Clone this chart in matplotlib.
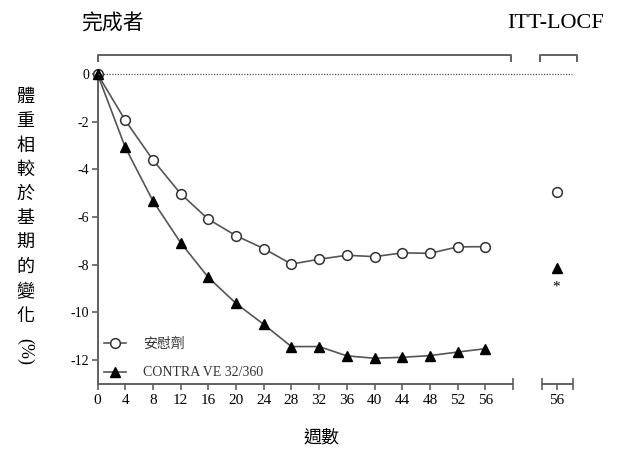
import numpy as np
import matplotlib
matplotlib.use("Agg")
import matplotlib.pyplot as plt
from matplotlib.lines import Line2D
from matplotlib.transforms import blended_transform_factory

plt.rcParams['font.family'] = ['Liberation Serif', 'Noto Sans CJK TC']

# data
weeks = [0, 4, 8, 12, 16, 20, 24, 28, 32, 36, 40, 44, 48, 52, 56]
placebo = [0, -1.94, -3.6, -5.02, -6.09, -6.78, -7.32, -7.97, -7.77, -7.6, -7.66, -7.5, -7.52, -7.25, -7.24]
contrave = [0, -3.07, -5.32, -7.07, -8.53, -9.62, -10.5, -11.43, -11.43, -11.82, -11.92, -11.88, -11.81, -11.66, -11.52]
itt_week = [56]
itt_placebo = [-4.93]
itt_contrave = [-8.12]
yticks = [0, -2, -4, -6, -8, -10, -12]
ylabel_chars = "體重相較於基期的變化"
series_names = ["安慰劑", "CONTRA VE 32/360"]

gray = "#555555"
spine_gray = "#606060"

fig = plt.figure(figsize=(6.18, 4.5), dpi=100)
ax = fig.add_axes([97.5 / 618, 66 / 450, 415.5 / 618, 310 / 450])
ax2 = fig.add_axes([542 / 618, 66 / 450, 30.5 / 618, 310 / 450], sharey=ax)

l1, = ax.plot(weeks, placebo, color=gray, lw=1.2, marker='o', ms=7,
              mfc='white', mec='#333333', mew=1.1, clip_on=False, zorder=3)
l2, = ax.plot(weeks, contrave, color=gray, lw=1.2, marker='^', ms=6.5,
              mfc='black', mec='black', clip_on=False, zorder=4)

ax2.plot(itt_week, itt_placebo, ls='none', marker='o', ms=7,
         mfc='white', mec='#333333', mew=1.1)
ax2.plot(itt_week, itt_contrave, ls='none', marker='^', ms=6.5,
         mfc='black', mec='black')
ax2.text(itt_week[0], itt_contrave[0] - 0.8, "*", ha='center', va='center', fontsize=11)

ax.set_xlim(0, 60)
ax.set_ylim(-13, 0)
ax2.set_xlim(53.9, 58.3)

for a in (ax, ax2):
    for s in ('top', 'right'):
        a.spines[s].set_visible(False)
    a.spines['bottom'].set_color(spine_gray)
    a.spines['bottom'].set_linewidth(1.4)
    a.tick_params(axis='x', direction='out', length=4, width=1.2, color=spine_gray,
                  labelsize=11, pad=3)
ax2.spines['left'].set_visible(False)
ax2.tick_params(axis='y', left=False, labelleft=False)

ax.spines['left'].set_color(spine_gray)
ax.spines['left'].set_linewidth(1.4)
ax.set_yticks(yticks)
ax.set_yticklabels([str(v) for v in yticks])
ax.tick_params(axis='y', direction='out', length=4, width=1.2, color=spine_gray,
               labelsize=10, pad=2)

ax.set_xticks(weeks)
ax.set_xticks([60], minor=True)
ax2.set_xticks(itt_week)
ax2.set_xticks([53.9, 58.3], minor=True)
for a in (ax, ax2):
    a.tick_params(axis='x', which='minor', direction='inout', length=8, width=1.2,
                  color=spine_gray)

# dotted zero line across both panels
tr = blended_transform_factory(fig.transFigure, ax.transData)
fig.add_artist(Line2D([98 / 618, 572 / 618], [0, 0], transform=tr, color=gray,
                      lw=0.9, ls=(0, (1, 1.2)), zorder=1))

# brackets above the panels
def bracket(x0, x1):
    y0 = 1 - 54.5 / 450
    y1 = 1 - 61 / 450
    fig.add_artist(Line2D([x0 / 618, x0 / 618, x1 / 618, x1 / 618], [y1, y0, y0, y1],
                          color=spine_gray, lw=1.4))

bracket(98, 511)
bracket(540, 577)

fig.text(112 / 618, 1 - 24 / 450, "完成者", ha='center', va='center', fontsize=15,
         family='Noto Sans CJK TC')
fig.text(556 / 618, 1 - 24 / 450, "ITT-LOCF", ha='center', va='center', fontsize=16)

# vertical stacked y label
for i, ch in enumerate(ylabel_chars):
    fig.text(25 / 618, 1 - (97 + i * 24.3) / 450, ch, ha='center', va='center',
             fontsize=13, family='Noto Sans CJK TC')
fig.text(25 / 618, 1 - 352 / 450, "(%)", ha='center', va='center', fontsize=13,
         rotation=270)

fig.text(322 / 618, 1 - 437 / 450, "週數", ha='center', va='center', fontsize=13,
         family='Noto Sans CJK TC')

leg = ax.legend([l1, l2], series_names, loc='lower left', bbox_to_anchor=(-0.005, -0.012),
                frameon=False, fontsize=10, handlelength=1.6, handletextpad=1.2,
                labelspacing=1.1, borderaxespad=0.2)
for t in leg.get_texts():
    t.set_color('#333333')

fig.savefig("out.png", dpi=100)
